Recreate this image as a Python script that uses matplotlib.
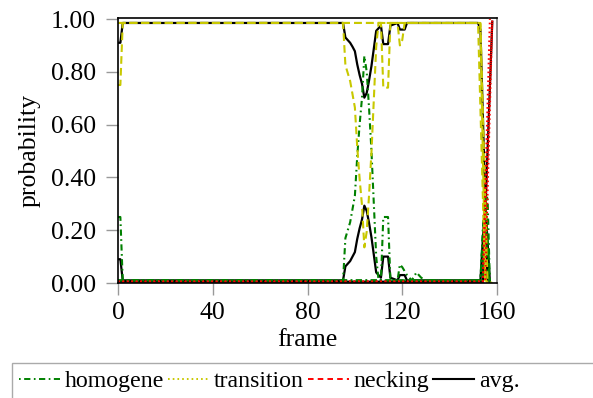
import matplotlib
matplotlib.use('Agg')
import matplotlib.pyplot as plt
from matplotlib.lines import Line2D
from matplotlib.patches import Rectangle

plt.rcParams['font.family'] = ['Liberation Serif', 'DejaVu Serif']
plt.rcParams['font.size'] = 18.5
plt.rcParams['lines.scale_dashes'] = False

# (frame, probability) break points of every curve
homogene_runs = [
    [(0, 0.25), (1, 0.25), (2, 0.01), (95, 0.01), (96, 0.17), (98, 0.23), (99, 0.28),
     (100, 0.33), (101, 0.48), (102, 0.60), (103, 0.70), (104, 0.86), (105, 0.80),
     (106, 0.66), (107, 0.50), (108, 0.30), (109, 0.10), (110, 0.01), (153, 0.01),
     (155, 0.33), (157, 0.0)],
    [(0, 0.01), (111, 0.01), (112, 0.25), (114, 0.25), (115, 0.01), (154, 0.01),
     (155, 0.30), (156, 0.33), (157, 0.0)],
    [(0, 0.01), (118, 0.01), (119, 0.07), (120, 0.06), (122, 0.03), (124, 0.01),
     (126, 0.04), (128, 0.02), (130, 0.01), (153, 0.01), (154, 0.20), (155, 0.32),
     (156, 0.05), (157, 0.0)],
]
transition_runs = [
    [(0, 0.75), (1, 0.75), (2, 0.985), (95, 0.985), (96, 0.825), (98, 0.765),
     (99, 0.715), (100, 0.665), (101, 0.515), (102, 0.395), (103, 0.295), (104, 0.135),
     (105, 0.195), (106, 0.335), (107, 0.495), (108, 0.695), (109, 0.895), (110, 0.985),
     (152, 0.985), (155, 0.01), (158, 0.0)],
    [(0, 0.985), (111, 0.985), (112, 0.74), (114, 0.74), (115, 0.985), (153, 0.985),
     (155, 0.02), (156, 0.0)],
    [(0, 0.985), (118, 0.985), (119, 0.90), (120, 0.92), (121, 0.985), (153, 0.985),
     (156, 0.0)],
]
necking_runs = [
    [(0, 0.005), (154, 0.005), (157, 1.0)],
    [(0, 0.005), (155, 0.005), (158, 1.0)],
    [(0, 0.005), (154, 0.005), (158, 0.99)],
]
avg_homogene = [(0, 0.09), (1, 0.09), (2, 0.01), (95, 0.01), (96, 0.063), (98, 0.083),
                (99, 0.10), (100, 0.117), (101, 0.167), (102, 0.207), (103, 0.24),
                (104, 0.293), (105, 0.273), (106, 0.227), (107, 0.173), (108, 0.107),
                (109, 0.04), (111, 0.02), (112, 0.10), (114, 0.10), (115, 0.02),
                (118, 0.01), (119, 0.03), (121, 0.03), (122, 0.01), (153, 0.01),
                (155, 0.31), (157, 0.005)]
avg_transition = [(0, 0.91), (1, 0.91), (2, 0.985), (95, 0.985), (96, 0.93), (98, 0.91),
                  (99, 0.895), (100, 0.878), (101, 0.828), (102, 0.788), (103, 0.755),
                  (104, 0.702), (105, 0.72), (106, 0.768), (107, 0.822), (108, 0.888),
                  (109, 0.955), (111, 0.975), (112, 0.905), (114, 0.905), (115, 0.975),
                  (118, 0.985), (119, 0.96), (121, 0.96), (122, 0.985), (152, 0.985),
                  (153, 0.96), (156, 0.005)]
avg_necking = [(0, 0.005), (154, 0.005), (158, 0.99)]

x_ticks = [0, 40, 80, 120, 160]
y_ticks = [0.0, 0.2, 0.4, 0.6, 0.8, 1.0]
legend_labels = ['homogene', 'transition', 'necking', 'avg.']

GREEN = '#008000'
YELLOW = '#c8c800'
RED = '#ff0000'


def draw(ax, pts, **kw):
    xs = [p[0] for p in pts]
    ys = [p[1] for p in pts]
    ax.plot(xs, ys, **kw)


fig = plt.figure(figsize=(5.93, 3.98), dpi=100)
ax = fig.add_axes([118 / 593, 1 - 283 / 398, (497 - 118) / 593, (283 - 18) / 398])

for pts in [avg_homogene, avg_transition, avg_necking]:
    draw(ax, pts, color='black', lw=1.6)
for pts in homogene_runs:
    draw(ax, pts, color=GREEN, lw=1.5, dashes=(4.5, 2.5, 1.2, 2.5))
for pts in transition_runs:
    draw(ax, pts, color=YELLOW, lw=1.5, dashes=(5.5, 3))
for pts in necking_runs:
    draw(ax, pts, color=RED, lw=1.5, dashes=(1.2, 2))

ax.set_xlim(0, 160)
ax.set_ylim(0, 1.0038)
ax.set_xticks(x_ticks)
ax.set_yticks(y_ticks)
ax.set_yticklabels([f'{v:.2f}' for v in y_ticks])
ax.tick_params(direction='out', length=8.5, width=1, color='#999999', pad=5)
ax.tick_params(axis='y', pad=7.5)
ax.set_xlabel('frame', labelpad=4)
ax.set_ylabel('probability', labelpad=7)
for s in ax.spines.values():
    s.set_linewidth(1.2)
ax.spines['right'].set_color('#777777')

# legend frame runs off the right and bottom edges, as in the original
fig.patches.append(Rectangle((12 / 593, -0.02), 1.0, (398 - 363) / 398 + 0.02,
                             transform=fig.transFigure, fill=False,
                             edgecolor='#aaaaaa', lw=1))
handles = [
    Line2D([], [], color=GREEN, lw=1.4, dashes=(1.2, 2.5, 4.5, 2.5)),
    Line2D([], [], color=YELLOW, lw=1.4, dashes=(1.2, 2.2)),
    Line2D([], [], color=RED, lw=1.4, dashes=(4, 3)),
    Line2D([], [], color='black', lw=1.5),
]
leg = fig.legend(handles, legend_labels, loc='upper left', bbox_to_anchor=(12 / 593, 1 - 363 / 398),
                 ncol=4, frameon=False, handlelength=1.7,
                 handletextpad=0.2, columnspacing=0.18, borderpad=0.3, borderaxespad=0,
                 fontsize=17.2)

fig.savefig('out.png', dpi=100)
